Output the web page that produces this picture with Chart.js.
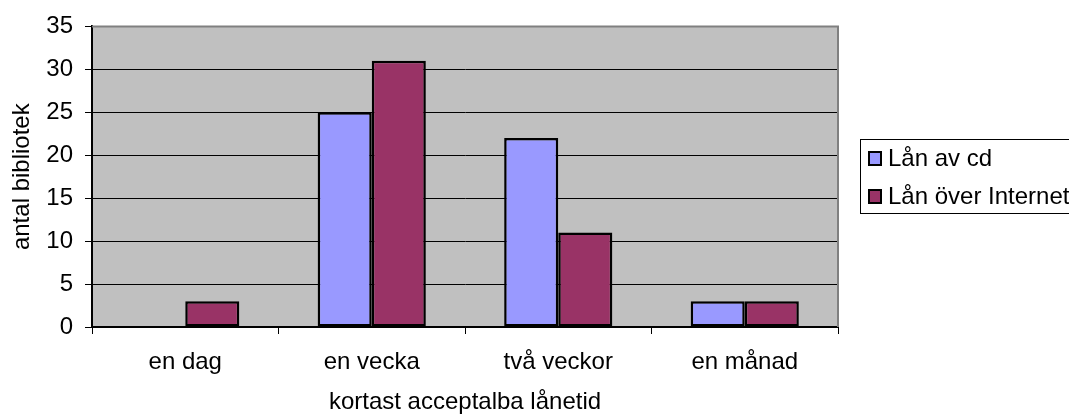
<!DOCTYPE html>
<html>
<head>
<meta charset="utf-8">
<script src="https://cdn.jsdelivr.net/npm/chart.js@4/dist/chart.umd.min.js"></script>
<style>
  html, body { margin: 0; padding: 0; background: #fff; }
  #wrap { width: 1069px; height: 414px; }
</style>
</head>
<body>
<div id="wrap"><canvas id="c" width="1069" height="414"></canvas></div>
<script>
const categories = ["en dag", "en vecka", "två veckor", "en månad"];
const seriesNames = ["Lån av cd", "Lån över Internet"];
const lanAvCd = [0, 25, 22, 3];
const lanOverInternet = [3, 31, 11, 3];
const yTicks = [0, 5, 10, 15, 20, 25, 30, 35];
const yTitle = "antal bibliotek";
const xTitle = "kortast acceptalba lånetid";

const FONT = "'Liberation Sans', Arial, sans-serif";
const FS = 24;

const plotBg = {
  id: 'plotBg',
  beforeDraw(chart) {
    const {ctx, chartArea: a} = chart;
    ctx.save();
    ctx.fillStyle = '#C0C0C0';
    ctx.fillRect(a.left, a.top, a.right - a.left, a.bottom - a.top);
    ctx.restore();
  },
  afterDraw(chart) {
    const {ctx, chartArea: a} = chart;
    ctx.save();
    // top and right frame (gray)
    ctx.strokeStyle = '#808080';
    ctx.lineWidth = 2;
    ctx.beginPath();
    ctx.moveTo(a.left, a.top);
    ctx.lineTo(a.right, a.top);
    ctx.lineTo(a.right, a.bottom);
    ctx.stroke();
    // legend
    const lx = 860, ly = 139, lw = 240, lh = 74;
    ctx.fillStyle = '#fff';
    ctx.fillRect(lx, ly, lw, lh);
    ctx.strokeStyle = '#000';
    ctx.lineWidth = 1;
    ctx.strokeRect(lx + 0.5, ly + 0.5, lw, lh);
    ctx.font = FS + 'px ' + FONT;
    ctx.textBaseline = 'alphabetic';
    ctx.textAlign = 'left';
    chart.data.datasets.forEach((ds, i) => {
      const top = 152 + i * 38;
      ctx.fillStyle = ds.backgroundColor;
      ctx.fillRect(869, top, 12, 13);
      ctx.strokeStyle = '#000';
      ctx.lineWidth = 2;
      ctx.strokeRect(869, top, 12, 13);
      ctx.fillStyle = '#000';
      ctx.fillText(ds.label, 888, 166 + i * 38);
    });
    ctx.restore();
  }
};

new Chart(document.getElementById('c'), {
  type: 'bar',
  data: {
    labels: categories,
    datasets: [
      { label: seriesNames[0], data: lanAvCd, backgroundColor: '#9999FF', borderColor: '#000', borderWidth: 2.5, borderSkipped: false },
      { label: seriesNames[1], data: lanOverInternet, backgroundColor: '#993366', borderColor: '#000', borderWidth: 2.5, borderSkipped: false }
    ]
  },
  options: {
    responsive: false,
    animation: false,
    layout: { padding: { top: 25, right: 231, left: 0, bottom: 0 } },
    plugins: { legend: { display: false }, tooltip: { enabled: false } },
    datasets: { bar: { categoryPercentage: 0.58, barPercentage: 1.0 } },
    scales: {
      x: {
        afterFit: s => { s.height = 87; },
        grid: { display: true, drawOnChartArea: false, drawTicks: true, tickLength: 7, color: '#000', offset: true },
        border: { display: true, color: '#000', width: 2 },
        ticks: { color: '#000', font: { family: FONT, size: FS }, padding: 14 },
        title: { display: true, text: xTitle, color: '#000', font: { family: FONT, size: FS, lineHeight: 1 }, padding: { top: 0, bottom: 0 } }
      },
      y: {
        min: 0, max: 35,
        afterFit: s => { s.width = 92; },
        afterBuildTicks: s => { s.ticks = yTicks.map(v => ({ value: v })); },
        grid: { color: '#000', lineWidth: 1, drawTicks: true, tickLength: 7 },
        border: { display: true, color: '#000', width: 2 },
        ticks: { color: '#000', font: { family: FONT, size: FS }, padding: 12 },
        title: { display: true, text: yTitle, color: '#000', font: { family: FONT, size: FS, lineHeight: 1 }, padding: { top: 10, bottom: 0 } }
      }
    }
  },
  plugins: [plotBg]
});
</script>
</body>
</html>
